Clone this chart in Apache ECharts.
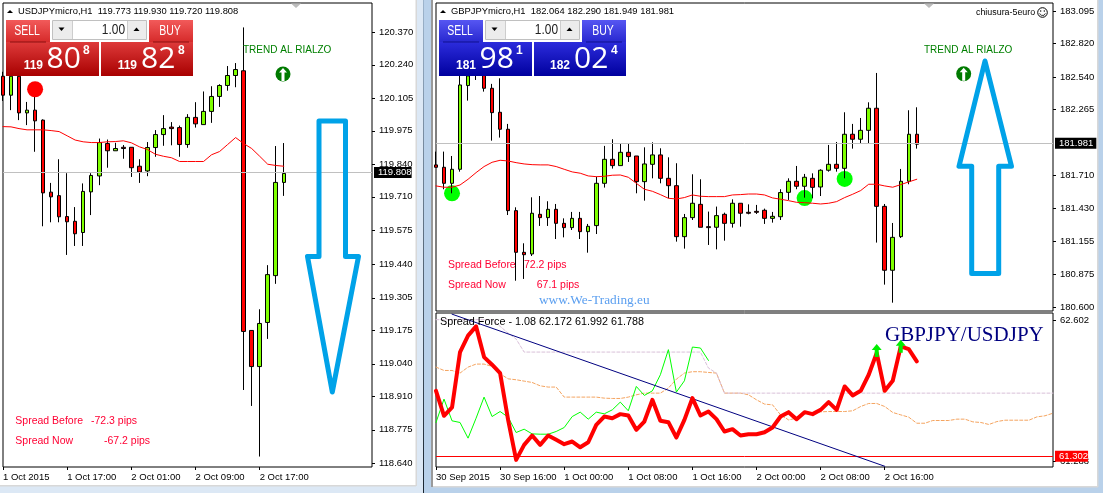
<!DOCTYPE html>
<html>
<head>
<meta charset="utf-8">
<style>html,body{margin:0;padding:0;background:#dce8f5;overflow:hidden}#c{width:1103px;height:493px}</style>
<script src="https://cdn.jsdelivr.net/npm/echarts@6/dist/echarts.min.js"></script>
</head>
<body>
<div id="c"></div>
<script>
// ---------- data: USDJPY H1 [open, close, low, high]
const usdCandles = [
[120.194,120.118,120.095,120.212],[120.118,120.194,120.058,120.198],[120.194,120.047,120.018,120.198],[120.047,120.058,119.998,120.091],
[120.058,120.015,119.891,120.122],[120.018,119.726,119.592,120.021],[119.729,119.710,119.608,119.766],[119.715,119.630,119.608,119.861],
[119.631,119.610,119.477,119.805],[119.612,119.562,119.513,119.669],[119.567,119.732,119.513,119.764],[119.730,119.796,119.637,119.805],
[119.794,119.928,119.757,119.944],[119.924,119.895,119.827,119.940],[119.895,119.904,119.895,119.927],[119.909,119.904,119.863,119.918],
[119.909,119.827,119.790,119.909],[119.833,119.810,119.766,119.861],[119.814,119.908,119.793,119.930],[119.908,119.960,119.871,119.978],
[119.960,119.984,119.915,120.038],[119.990,119.984,119.917,120.010],[119.988,119.920,119.871,119.996],[119.920,120.029,119.907,120.042],
[120.029,120.003,119.988,120.090],[120.000,120.053,120.000,120.133],[120.053,120.113,120.007,120.154],[120.113,120.157,120.071,120.162],
[120.157,120.197,120.136,120.235],[120.197,120.221,120.150,120.247],[120.216,119.170,118.935,120.390],[119.174,119.029,118.871,119.174],
[119.029,119.202,118.668,119.259],[119.206,119.398,119.140,119.436],[119.394,119.768,119.361,119.914],[119.768,119.804,119.714,119.926]];
const usdMA = [119.992,119.991,119.984,119.979,119.979,119.979,119.976,119.972,119.955,119.938,119.931,119.928,119.928,119.931,119.932,119.935,119.927,119.911,119.900,119.881,119.873,119.867,119.852,119.852,119.852,119.852,119.879,119.892,119.920,119.948,119.924,119.904,119.873,119.841,119.836,119.833];
const usdTicks = [120.37,120.24,120.105,119.975,119.84,119.71,119.575,119.44,119.305,119.175,119.04,118.91,118.775,118.64];
const usdXLabels = ['1 Oct 2015','1 Oct 17:00','2 Oct 01:00','2 Oct 09:00','2 Oct 17:00'];
const usdLast = 119.808;
const usdSignal = [[4,120.142]];

// ---------- data: GBPJPY H1
const gbpCandles = [
[181.799,181.779,181.779,181.911],[181.779,181.644,181.594,181.911],[181.644,181.762,181.560,181.874],[181.762,182.472,181.742,182.548],
[182.467,182.548,182.340,182.627],[182.570,182.683,182.514,182.710],[182.627,182.444,182.416,182.655],[182.444,182.239,182.003,182.481],
[182.242,182.099,182.029,182.528],[182.099,181.414,181.377,182.144],[181.414,181.063,180.824,181.442],[181.063,181.043,180.839,181.139],
[181.049,181.392,181.032,181.526],[181.383,181.355,181.285,181.537],[181.355,181.425,181.285,181.493],[181.425,181.307,181.175,181.470],
[181.307,181.271,181.189,181.349],[181.271,181.349,181.251,181.403],[181.349,181.237,181.175,181.403],[181.237,181.282,181.060,181.302],
[181.288,181.644,181.217,181.700],[181.644,181.846,181.608,181.959],[181.846,181.793,181.768,182.015],[181.793,181.905,181.793,181.981],
[181.905,181.869,181.824,181.981],[181.874,181.658,181.560,181.874],[181.658,181.807,181.498,181.947],[181.804,181.883,181.686,181.989],
[181.883,181.686,181.644,181.939],[181.686,181.624,181.518,181.863],[181.624,181.195,181.153,181.813],[181.195,181.355,181.094,181.386],
[181.355,181.476,181.335,181.720],[181.467,181.274,181.274,181.678],[181.279,181.271,181.125,181.406],[181.274,181.372,181.088,181.448],
[181.383,181.307,181.161,181.397],[181.307,181.476,181.271,181.509],[181.476,181.392,181.279,181.476],[181.400,181.392,181.383,181.467],
[181.408,181.400,181.386,181.462],[181.417,181.349,181.302,181.431],[181.349,181.366,181.313,181.403],[181.363,181.566,181.335,181.594],
[181.568,181.661,181.504,181.686],[181.661,181.619,181.594,181.790],[181.619,181.695,181.523,181.723],[181.686,181.610,181.518,181.728],
[181.613,181.754,181.537,181.762],[181.754,181.804,181.742,181.967],[181.804,181.770,181.742,181.992],[181.770,182.057,181.686,182.242],
[182.057,182.015,181.936,182.144],[182.015,182.090,181.975,182.194],[182.090,182.276,181.975,182.326],[182.276,181.450,181.145,182.573],
[181.450,180.912,180.791,181.470],[180.912,181.189,180.639,181.310],[181.195,181.661,181.184,181.765],[181.661,182.057,181.636,182.259],
[182.057,181.973,181.936,182.284]];
const gbpMA = [181.622,181.611,181.611,181.630,181.678,181.734,181.785,181.821,181.838,181.832,181.818,181.807,181.801,181.799,181.799,181.785,181.762,181.740,181.729,181.706,181.700,181.703,181.712,181.714,181.695,181.644,181.594,181.577,181.549,181.518,181.512,181.524,181.546,181.535,181.532,181.532,181.532,181.546,181.549,181.554,181.554,181.546,181.521,181.510,181.498,181.484,181.481,181.476,181.470,181.476,181.490,181.524,181.552,181.583,181.636,181.636,181.622,181.611,181.633,181.656,181.678];
const gbpTicks = [183.095,182.82,182.54,182.265,181.71,181.43,181.155,180.875,180.6];
const gbpLast = 181.981;
const gbpSignals = [[2,181.560],[46,181.520],[51,181.681]];

// ---------- data: Spread Force indicator
const spreadRed = [61.928,61.689,61.769,62.299,62.456,62.545,62.251,62.178,62.098,61.650,61.267,61.411,61.500,61.411,61.500,61.459,61.417,61.443,61.388,61.436,61.602,61.682,61.666,61.705,61.692,61.555,61.634,61.842,61.641,61.628,61.481,61.650,61.858,61.692,61.730,61.657,61.539,61.561,61.500,61.513,61.513,61.532,61.577,61.682,61.724,61.657,61.724,61.705,61.746,61.820,61.746,61.970,61.884,61.928,62.082,62.290,61.928,62.024,62.354,62.328,62.210];
const spreadGreen = [61.625,61.849,61.641,61.625,61.475,61.666,61.868,61.682,61.730,61.676,61.529,61.561,61.516,61.513,61.513,61.539,61.577,61.682,61.724,61.657,61.724,61.708,61.746,61.820,61.737,61.970,61.884,61.928,62.082,62.322,61.916,62.024,62.347,62.338,62.219];
const spreadOrange = [62.155,62.123,62.123,62.098,62.155,62.184,62.184,62.162,62.091,62.043,62.034,62.021,62.008,61.976,61.964,61.964,61.868,61.868,61.868,61.868,61.868,61.858,61.855,61.855,61.868,61.890,61.906,61.906,61.906,61.954,62.040,62.098,62.111,62.111,62.104,62.098,61.906,61.906,61.906,61.890,61.842,61.801,61.794,61.698,61.650,61.666,61.721,61.708,61.727,61.730,61.730,61.730,61.737,61.778,61.807,61.807,61.778,61.721,61.698,61.676,61.618,61.618,61.644,61.644,61.644,61.657,61.657,61.631,61.625,61.606,61.634,61.647,61.647,61.647,61.647,61.679,61.689,61.714];
const spreadThistle = [62.609,62.609,62.609,62.609,62.609,62.609,62.609,62.609,62.545,62.481,62.424,62.299,62.299,62.299,62.299,62.299,62.299,62.299,62.299,62.299,62.299,62.299,62.299,62.299,62.299,62.299,62.299,62.299,62.299,62.299,62.299,62.299,62.299,62.299,62.146,62.098,61.906,61.906,61.906,61.906,61.906,61.906,61.906,61.906,61.906,61.906,61.906,61.906,61.906,61.906,61.906,61.906,61.906,61.906,61.906,61.906,61.906,61.906,61.906,61.906,61.906,61.906,61.906,61.906,61.906,61.906,61.906,61.906,61.906,61.906,61.906,61.906,61.906,61.906,61.906,61.906,61.906,61.906];
const spreadTrend = [[2,62.662],[56,61.206]];
const spreadArrows = [[55,62.315],[58,62.354]];
const spreadDot = [[56,61.938]];
const spreadTicks = [62.602,61.25];
const spreadFloor = 61.302;
const spreadXLabels = ['30 Sep 2015','30 Sep 16:00','1 Oct 00:00','1 Oct 08:00','1 Oct 16:00','2 Oct 00:00','2 Oct 08:00','2 Oct 16:00'];

// ---------- helpers
const UI = '"Liberation Sans", sans-serif';
const AX_FONT = 9.5;
function cats(labels, n){ const a=[]; for(let i=0;i<n;i++){ const j=i/8; a.push(Number.isInteger(j)&&j<labels.length?labels[j]:''); } return a; }
const usdCats = cats(usdXLabels,47), gbpCats = cats([],78), sprCats = cats(spreadXLabels,78);
const shown = (i,v)=>v!=='';
function xAxisOf(idx,data,labels){ return {gridIndex:idx,type:'category',boundaryGap:false,data,
  axisLine:{show:false},splitLine:{show:false},
  axisTick:{show:labels,length:3,interval:shown,lineStyle:{color:'#000'}},
  axisLabel:{show:labels,interval:shown,align:'left',margin:5,color:'#000',fontFamily:UI,fontSize:AX_FONT}}; }
function yAxisOf(idx,min,max,ticks,fmt){ return {gridIndex:idx,type:'value',position:'right',min,max,
  splitLine:{show:false},axisLine:{show:false},
  axisTick:{show:true,length:3,customValues:ticks,lineStyle:{color:'#000'}},
  axisLabel:{show:true,customValues:ticks,margin:7,color:'#000',fontFamily:UI,fontSize:AX_FONT,formatter:fmt||(v=>v.toFixed(3))}}; }
function last(value,bg,color,padR){ return {silent:true,symbol:'none',animation:false,precision:3,
  lineStyle:{color,type:'solid',width:1},
  label:{show:true,position:'end',distance:2,formatter:p=>p.value.toFixed(3),color:'#fff',backgroundColor:bg,padding:[1,padR,0,4],fontFamily:UI,fontSize:AX_FONT},
  emphasis:{disabled:true},data:[{yAxis:value}]}; }
function candle(idx,data,ml){ return {type:'candlestick',xAxisIndex:idx,yAxisIndex:idx,data,barWidth:4,clip:true,
  itemStyle:{color:'#7fff00',color0:'#ff0000',borderColor:'#000',borderColor0:'#000',borderWidth:1},markLine:ml,z:3}; }
function line(idx,data,color,width,type,extra){ return Object.assign({type:'line',xAxisIndex:idx,yAxisIndex:idx,data,showSymbol:false,smooth:false,clip:true,
  lineStyle:{color,width,type:type||'solid',join:'round',cap:'round'},itemStyle:{color}},extra||{}); }
function dots(idx,data,color,size,symbol,z){ return {type:'scatter',xAxisIndex:idx,yAxisIndex:idx,data,symbol:symbol||'circle',symbolSize:size,itemStyle:{color,opacity:1},z:z||6}; }

// ---------- overlay (trade panels, captions, hand-drawn arrows)
const G = echarts.graphic;
const lg = (a,b)=>new G.LinearGradient(0,0,0,1,[{offset:0,color:a},{offset:1,color:b}]);
const rect=(x,y,w,h,fill,z,stroke)=>({type:'rect',shape:{x,y,width:w,height:h},style:{fill,stroke:stroke||null,lineWidth:1},z:z||50,silent:true});
const txt=(x,y,text,fill,font,align,z)=>({type:'text',x,y,style:{text,fill,font,textAlign:align||'left',textVerticalAlign:'middle'},z:z||60,silent:true});
const squeezed=(x,y,text,fill,font,align,sx)=>Object.assign(txt(x,y,text,fill,font,align),{scaleX:sx});
const poly=(pts,fill,z)=>({type:'polygon',shape:{points:pts},style:{fill},z:z||60,silent:true});
const BTN='14px "Liberation Sans"';
function tradePanel(d,btnTop,btnBot,priceTop,priceBot,line_,s3,sBig,sSup,b3,bBig,bSup){
  const out=[];
  out.push(rect(d+50,20,99,23,'#fff',50));
  out.push(rect(d+6,20,44,22,lg(btnTop,btnBot),52), rect(d+149,20,44,22,lg(btnTop,btnBot),52));
  out.push(rect(d+6,42,93,34,lg(priceTop,priceBot),52), rect(d+101,42,92,34,lg(priceTop,priceBot),52));
  out.push(rect(d+99,42,2,34,'#fff',51));
  out.push(rect(d+10,41.5,36,1,line_,53), rect(d+153,41.5,36,1,line_,53));
  out.push(rect(d+52.5,20.5,94,19,'#fff',53,'#c0c0c0'));
  out.push(rect(d+53,21,19,18,'#ececec',54), rect(d+128,21,18,18,'#ececec',54));
  out.push(rect(d+72,21,.8,18,'#c0c0c0',55), rect(d+127.2,21,.8,18,'#c0c0c0',55));
  out.push(poly([[d+58.5,27.5],[d+64.5,27.5],[d+61.5,31]],'#000'), poly([[d+133.5,31],[d+139.5,31],[d+136.5,27.5]],'#000'));
  out.push(squeezed(d+125,30,'1.00','#222',BTN,'right',.85));
  out.push(squeezed(d+27,31,'SELL','#fff',BTN,'center',.75), squeezed(d+170,31,'BUY','#fff',BTN,'center',.75));
  out.push(txt(d+43,65.5,s3,'#fff','bold 12px '+UI,'right'), txt(d+46.5,59.5,sBig,'#fff','30px "Open Sans"'), txt(d+83,51,sSup,'#fff','bold 12px '+UI));
  out.push(txt(d+137,65.5,b3,'#fff','bold 12px '+UI,'right'), txt(d+141,59.5,bBig,'#fff','30px "Open Sans"'), txt(d+178,51,bSup,'#fff','bold 12px '+UI));
  return out;
}
function upIcon(cx,cy){ return [
  {type:'circle',shape:{cx,cy,r:7.5},style:{fill:'#007a00'},z:60,silent:true},
  poly([[cx,cy-6],[cx+4,cy-1.5],[cx+1.5,cy-1.5],[cx+1.5,cy+7],[cx-1.5,cy+7],[cx-1.5,cy-1.5],[cx-4,cy-1.5]],'#fff',61)]; }
function bigArrow(pts){ return {type:'polygon',shape:{points:pts},style:{fill:'none',stroke:'#00a2e8',lineWidth:5,lineJoin:'round'},z:40,silent:true}; }
const red='#ff0000';
const HDR='9.4px '+UI, SPR='10.5px '+UI, TR='10px '+UI;
const overlay=[
  // window frame
  rect(0,0,416,486,'#fff',-5), rect(433,0,665,487,'#fff',-5),
  rect(424,0,10,493,'#b9d1ea',-6), rect(434,487,669,6,'#b9d1ea',-6), rect(1098,0,5,493,'#b9d1ea',-6),
  rect(423,0,1,493,lg('#9db4cc','#1a2530'),-4), rect(431,0,2,487,'#9a9a9a',-4), rect(433,486,665,1.5,'#d8d8d8',-4), rect(1097,0,1.5,487,'#d8d8d8',-4),
  rect(0,485,416,1.5,'#d8d8d8',-4), rect(415.5,0,1.5,486,'#d8d8d8',-4),
  // header rows
  poly([[7,13],[13,13],[10,10]],'#000'), txt(18,11,'USDJPYmicro,H1  119.773 119.930 119.720 119.808','#000',HDR),
  poly([[440,13],[446,13],[443,10]],'#000'), txt(451,11,'GBPJPYmicro,H1  182.064 182.290 181.949 181.981','#000',HDR),
  poly([[291,3.5],[301,3.5],[296,8]],'#bcbcbc'), poly([[924,3.5],[934,3.5],[929,8]],'#bcbcbc'),
  txt(976,12.5,'chiusura-5euro','#000','8.9px '+UI),
  {type:'circle',shape:{cx:1042.5,cy:12.5,r:4.8},style:{fill:'#fff',stroke:'#000',lineWidth:1},z:60,silent:true},
  {type:'circle',shape:{cx:1040.7,cy:11,r:.7},style:{fill:'#000'},z:61,silent:true},
  {type:'circle',shape:{cx:1044.3,cy:11,r:.7},style:{fill:'#000'},z:61,silent:true},
  {type:'arc',shape:{cx:1042.5,cy:12.5,r:3,startAngle:.3,endAngle:Math.PI-.3},style:{stroke:'#000',fill:'none',lineWidth:.8},z:61,silent:true},
  // captions
  txt(243,50,'TREND AL RIALZO','#008000',TR), txt(924,50,'TREND AL RIALZO','#008000',TR),
  ...upIcon(283,74), ...upIcon(963.7,73.7),
  txt(15.3,421.5,'Spread Before','#ff0033',SPR), txt(91,421.5,'-72.3 pips','#ff0033',SPR),
  txt(15.3,441.5,'Spread Now','#ff0033',SPR), txt(104,441.5,'-67.2 pips','#ff0033',SPR),
  txt(448,265,'Spread Before','#ff0033',SPR), txt(524,265,'72.2 pips','#ff0033',SPR),
  txt(448,285,'Spread Now','#ff0033',SPR), txt(536.7,285,'67.1 pips','#ff0033',SPR),
  txt(539,301,'www.We-Trading.eu','#5b9ff0','13.3px "Liberation Serif"'),
  txt(440,322.5,'Spread Force - 1.08 62.172 61.992 61.788','#000','10.8px '+UI),
  txt(885,335,'GBPJPY/USDJPY','#000080','21px "Liberation Serif"'),
  bigArrow([[319,121],[345.5,121],[345.5,256.5],[358.5,256.5],[332.3,392],[307.5,256.5],[319,256.5]]),
  bigArrow([[971.7,273.5],[998.7,273.5],[998.7,166.3],[1011.5,166.3],[985,61],[959,166.3],[971.7,166.3]]),
  ...tradePanel(0,'#f25a5a','#d62a2a','#de3a3a','#a80000','#8c1010','119','80','8','119','82','8'),
  ...tradePanel(433,'#5656f2','#2828d0','#2c2cdc','#00009e','#101090','181','98','1','182','02','4'),
];

const chart = echarts.init(document.getElementById('c'),null,{renderer:'canvas'});
const border={show:true,backgroundColor:'#fff',borderColor:'#000',borderWidth:1,containLabel:false};
chart.setOption({
  animation:false,
  backgroundColor:'transparent',
  tooltip:{show:false},
  grid:[
    Object.assign({left:3,top:3,width:369,height:464},border),
    Object.assign({left:436,top:3,width:617,height:308},border),
    Object.assign({left:436,top:313,width:617,height:154},border)
  ],
  xAxis:[xAxisOf(0,usdCats,true),xAxisOf(1,gbpCats,false),xAxisOf(2,sprCats,true)],
  yAxis:[
    yAxisOf(0,118.626,120.488,usdTicks),
    yAxisOf(1,180.569,183.162,gbpTicks),
    yAxisOf(2,61.199,62.673,spreadTicks,v=>v>62?'62.602':'61.288')
  ],
  series:[
    candle(0,usdCandles,last(usdLast,'#000','#c0c0c0',0)),
    line(0,usdMA,'#ff0000',1,null,{z:4}),
    dots(0,usdSignal,'#ff0000',16),
    candle(1,gbpCandles,last(gbpLast,'#000','#c0c0c0',3)),
    dots(1,gbpSignals,'#00ff00',16,null,2),
    line(1,gbpMA,'#ff0000',1,null,{z:4}),
    line(2,spreadOrange,'#f4a460',1,[3,2],{z:2}),
    line(2,spreadThistle,'#d8bfd8',1,[3,2],{z:3,markLine:last(spreadFloor,red,red,0)}),
    line(2,spreadGreen,'#00ff00',1,null,{z:4}),
    line(2,spreadTrend,'#000080',1,null,{z:5}),
    line(2,spreadRed,'#ff0000',4,null,{z:6}),
    dots(2,spreadArrows,'#00ee00',[10,13],'path://M5 0L10 6H7V13H3V6H0Z',7),
    dots(2,spreadDot,'#f5f5c8',6,null,5)
  ],
  graphic:{elements:overlay}
});
</script>
</body>
</html>
